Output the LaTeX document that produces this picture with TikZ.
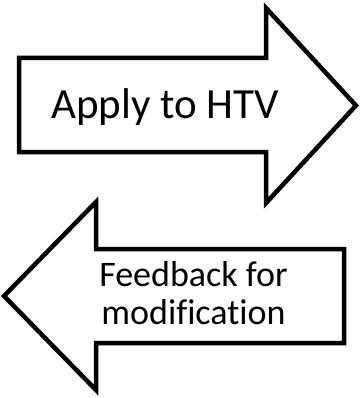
\documentclass[tikz,border=0pt]{standalone}
\usepackage{fontspec}
\setmainfont[Ligatures=CommonOff]{Carlito}
\begin{document}
\begin{tikzpicture}[x=1pt,y=-1pt,
  blockarrow/.style={draw=black,fill=white,line width=4.5pt,line join=miter},
  biglabel/.style={font=\fontsize{43}{52}\selectfont,inner sep=0pt},
  smalllabel/.style={font=\fontsize{36}{38}\selectfont,inner sep=0pt,align=center}]
\useasboundingbox (0,0) rectangle (360,398);
% right-pointing block arrow
\draw[blockarrow] (19,58) -- (266,58) -- (266,8) -- (356,105.5) -- (266,203)
  -- (266,152) -- (19,152) -- cycle;
\node[biglabel,anchor=base] (apply) at (165,119) {Apply to HTV};
% left-pointing block arrow
\draw[blockarrow] (344,249) -- (96,249) -- (96,202) -- (4,296) -- (96,390)
  -- (96,343) -- (344,343) -- cycle;
% the base anchor of a two-line node sits on its last line
\node[smalllabel,anchor=base] (feedback) at (193.5,324) {Feedback for\\modification};
\end{tikzpicture}
\end{document}
